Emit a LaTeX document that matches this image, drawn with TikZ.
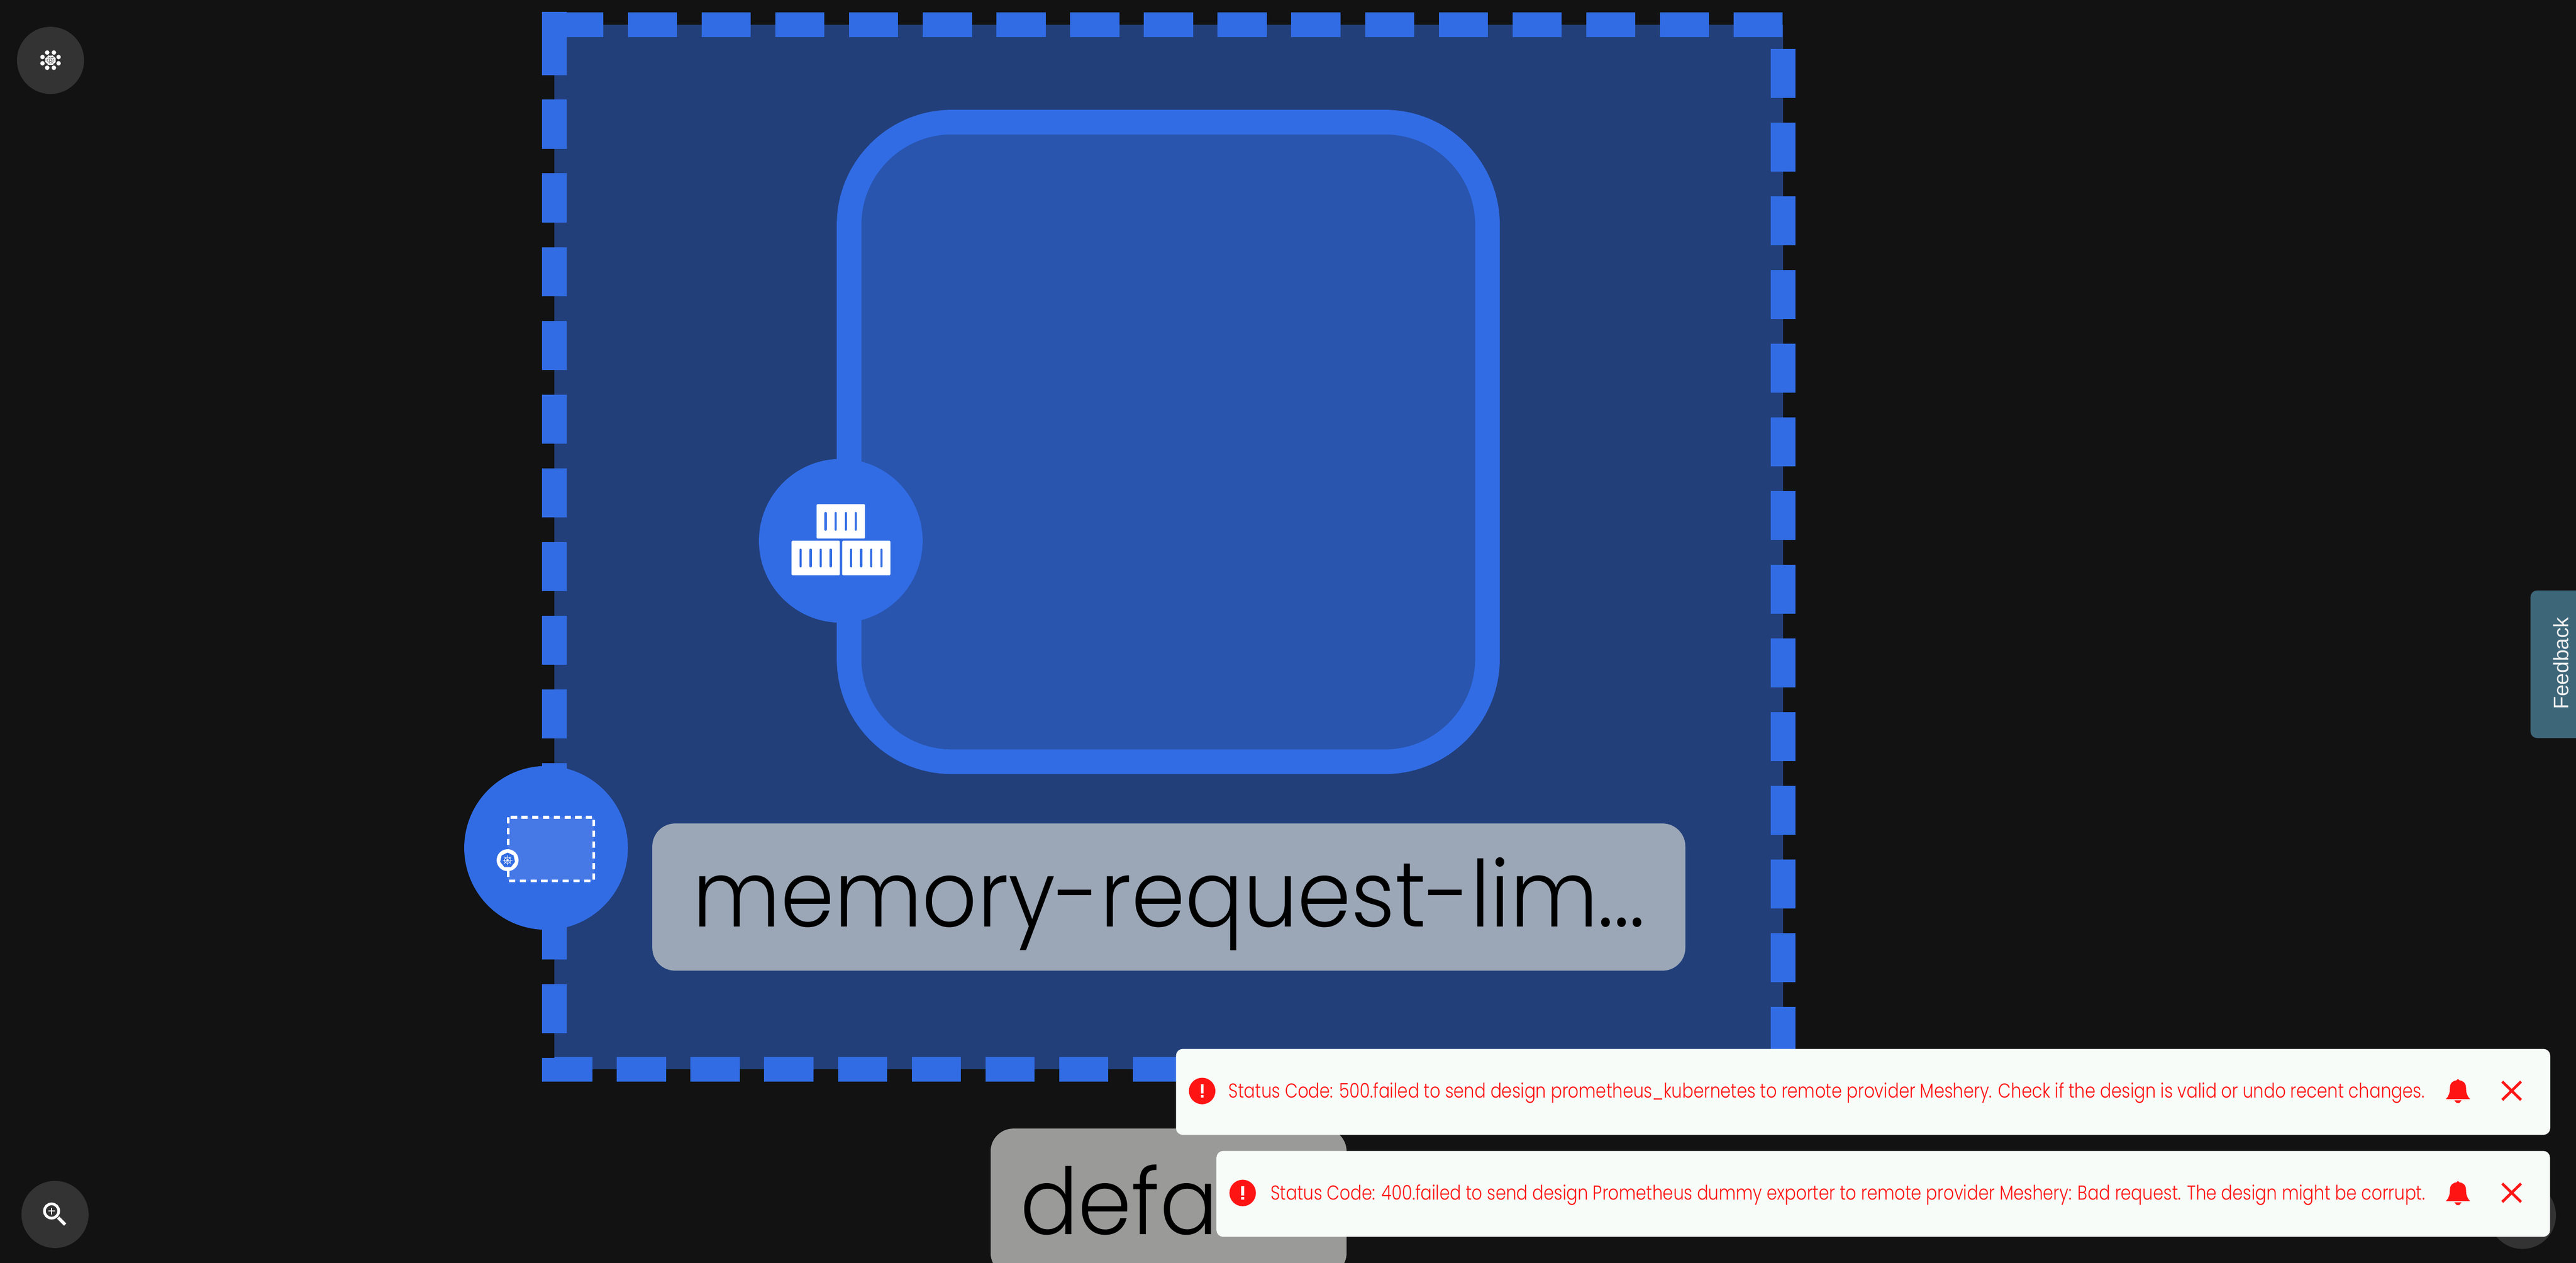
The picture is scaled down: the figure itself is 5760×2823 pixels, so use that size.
\documentclass[tikz,border=0pt]{standalone}
\usepackage{fontspec}
\usepackage{tikz}
\usetikzlibrary{shapes.geometric}
\newfontfamily\labelfont[FakeStretch=0.935]{Poppins Light}
\newfontfamily\notefont[FakeStretch=0.83]{Poppins Light}
\newfontfamily\tabfont{Liberation Sans}
\definecolor{pagebg}{HTML}{121212}
\definecolor{frameblue}{HTML}{223F7A}
\definecolor{podblue}{HTML}{2955AE}
\definecolor{meshblue}{HTML}{316CE4}
\definecolor{paleblue}{HTML}{4779E6}
\definecolor{labelgrey}{HTML}{9BA7B7}
\definecolor{nsgrey}{HTML}{9A9B99}
\definecolor{notewhite}{HTML}{F7FCF8}
\definecolor{alertred}{HTML}{FF1414}
\definecolor{toolgrey}{HTML}{333333}
\definecolor{tabteal}{HTML}{3D6679}
\tikzset{
  labelbox/.style={fill=#1,rounded corners=5.1pt,inner xsep=0pt,inner ysep=0pt,font=\labelfont\fontsize{20.6}{24}\selectfont,text=black},
  notebox/.style={fill=notewhite,rounded corners=1.5pt,anchor=north west,inner sep=0pt,minimum width=307.3pt,minimum height=19.2pt},
  notetext/.style={anchor=base west,inner sep=0pt,text=alertred,font=\notefont\fontsize{#1}{6}\selectfont},
  framedash/.style={draw=meshblue,line width=5.5pt,dash pattern=on 10.98pt off 5.5pt,fill=frameblue},
  crateslit/.style={draw=meshblue,line width=0.5pt,line cap=round},
}
% crate of the stack, from its top left corner
\newcommand{\crateicon}[2]{
\fill [white,rounded corners=0.2pt] (#1,#2) rectangle (#1+108,#2+77);
\foreach \sx in {20,42.7,65.3,87.7}
  \draw [crateslit] (#1+\sx,#2+20) -- (#1+\sx,#2+57);
}
% red mark, bell and cross of a notification
\newcommand{\notemarks}[3]{
\fill [alertred] (#1,#2) circle (29.6);
\fill [white] (#1-3,#2-15) rectangle (#1+3,#2+6);
\fill [white] (#1-3,#2+9) rectangle (#1+3,#2+15);
\begin{scope}[shift={(5496,#3)}]
\fill [alertred] (-27,45) .. controls (-20,38) and (-18,30) .. (-18,20) .. controls (-18,8) and (-10,4) .. (-3,3) -- (0,0) -- (3,3) .. controls (10,4) and (18,8) .. (18,20) .. controls (18,30) and (20,38) .. (27,45) -- cycle;
\fill [alertred] (-8,48) -- (8,48) -- (3,54) -- (-3,54) -- cycle;
\draw [alertred,line width=0.6pt] (99,6) -- (141,47) (141,6) -- (99,47);
\end{scope}
}
\begin{document}
\begin{tikzpicture}[x=0.1pt,y=-0.1pt]
\fill [pagebg] (0,0) rectangle (5760,2823);
\useasboundingbox (0,0) rectangle (5760,2823);
% namespace
\draw [framedash] (1239.5,55) -- (3987,55) -- (3987,2390) -- (1239.5,2390) -- cycle;
\fill [meshblue] (1212,27) rectangle (1267,82);
% pod
\draw [draw=meshblue,fill=podblue,line width=5.5pt,rounded corners=23pt] (1898.5,273) rectangle (3326,1703);
\fill [meshblue] (1880,1209) circle (183);
\crateicon{1826}{1127}
\crateicon{1770}{1209}
\crateicon{1883}{1209}
% namespace badge
\fill [meshblue] (1221,1895.5) circle (183);
\draw [fill=paleblue,draw=white,line width=0.6pt,dash pattern=on 1.4pt off 1pt] (1136,1827) rectangle (1328,1969);
\fill [white] (1135,1923) circle (24.5);
\node (kubebadge) [regular polygon,regular polygon sides=7,fill=meshblue,minimum size=3.4pt,inner sep=0pt] at (1135,1923) {};
\draw [white,line width=0.1pt] (1135,1923) circle (7);
\foreach \a in {0,45,...,315}
  \draw [white,line width=0.1pt] (1135,1923) -- ++(\a:11);
% labels
\node (podlabel) [labelbox=labelgrey,minimum width=231pt,text height=23.1pt,text depth=9.8pt] at (2613.5,2005.5) {memory-request-lim...};
\node (nslabel) [labelbox=nsgrey,text width=66.4pt,inner xsep=6.6pt,align=left,text height=23.7pt,text depth=9.2pt] at (2613,2687.5) {defa};
% tools
\fill [toolgrey] (113,135) circle (75);
\fill [toolgrey] (123,2715) circle (75);
\fill [toolgrey] (5640,2717) circle (75);
\foreach \px/\py in {-7.5/-17,7.5/-17,18/-7,18/7,7.5/17,-7.5/17,-18/7,-18/-7}{
  \fill [white] (113+\px,134.5+\py) circle (5);
  \foreach \qx/\qy in {-7.5/-17,7.5/-17,18/-7,18/7,7.5/17,-7.5/17,-18/7,-18/-7}
    \draw [white,line width=0.05pt] (113+0.6*\px,134.5+0.6*\py) -- (113+0.6*\qx,134.5+0.6*\qy);
}
\draw [white,line width=0.6pt] (115.3,2707.3) circle (16);
\draw [white,line width=0.3pt] (107.8,2707.3) -- (122.8,2707.3) (115.3,2699.8) -- (115.3,2714.8);
\draw [white,line width=0.7pt] (130,2722) -- (145.7,2737.7);
% feedback tab
\fill [tabteal,rounded corners=1.5pt] (5658,1320) rectangle (5800,1650);
\node (feedback) [anchor=base,rotate=90,inner sep=0pt,text=white!94!black,font=\tabfont\fontsize{4.7}{6}\selectfont] at (5743,1483) {Feedback};
% notifications
\node (firstnote) [notebox] at (2627.5,2343) {};
\notemarks{2688}{2439}{2412}
\node (firsttext) [notetext=4.5] at (2745,2454) {Status Code: 500.failed to send design prometheus\_kubernetes to remote provider Meshery. Check if the design is valid or undo recent changes.};
\node (secondnote) [notebox,minimum width=298.2pt] at (2718,2571) {};
\notemarks{2778.6}{2667}{2640}
\node (secondtext) [notetext=4.5] at (2839,2682) {Status Code: 400.failed to send design Prometheus dummy exporter to remote provider Meshery: Bad request. The design might be corrupt.};
\end{tikzpicture}
\end{document}
